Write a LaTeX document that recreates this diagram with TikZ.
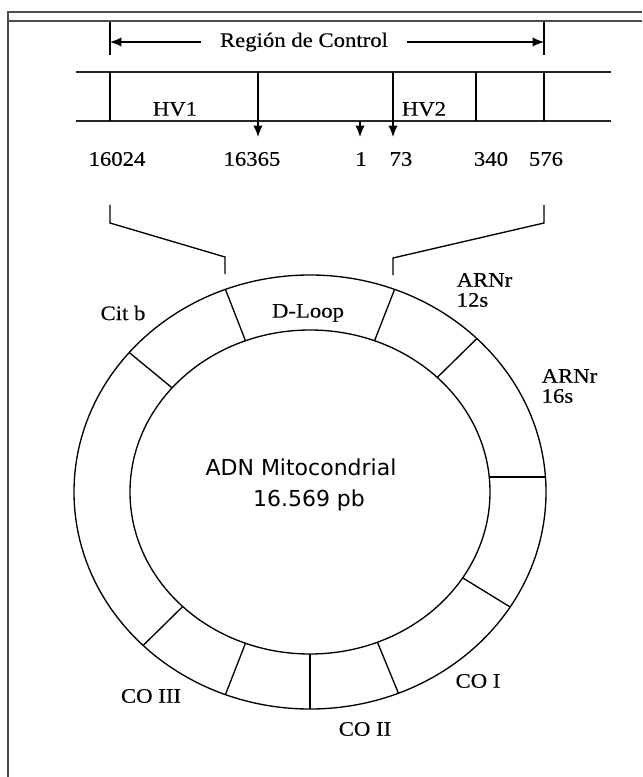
\documentclass[tikz,border=0pt]{standalone}
\usepackage{fontspec}
\setmainfont{Liberation Serif}[FakeStretch=1.1,FakeBold=0.3]
\newfontfamily\adnfont{DejaVu Sans}
\usetikzlibrary{arrows.meta}
\begin{document}
\begin{tikzpicture}[x=0.75pt,y=-0.75pt,line width=1pt,>={Latex[length=8.5pt,width=7pt]},
  lab/.style={font=\fontsize{15.5}{15}\selectfont,inner sep=0pt},
  frame/.style={line width=1.2pt,black!70}]
  \useasboundingbox (0,0) rectangle (642,777);
  \draw[frame] (642,12) -- (8,12) -- (8,777);
  \draw[frame] (8,21) -- (642,21);
  \node[lab,inner xsep=14pt] (rc) at (304,42) {Región de Control};
  \coordinate (cl) at (110,42);
  \coordinate (cr) at (544,42);
  \draw (110,22) -- (110,55);
  \draw (544,22) -- (544,55);
  \draw[->] (rc.west) -- (cl);
  \draw[->] (rc.east) -- (cr);
  \draw[line width=1.4pt,black!85] (76,72) -- (611,72);
  \draw[line width=1.4pt,black!85] (76,121) -- (611,121);
  \foreach \x in {110,476,544} \draw (\x,72) -- (\x,121);
  \foreach \x in {258,393} \draw[->] (\x,72) -- (\x,137);
  \draw[->] (360,121) -- (360,137);
  \node[lab] (hv1) at (175,109) {HV1};
  \node[lab] (hv2) at (424,109) {HV2};
  \foreach \x/\n in {117/16024,252/16365,361/1,401/73,491/340,546/576}
    \node[lab] (p\n) at (\x,159) {\n};
  \coordinate (bl) at (225,274);
  \coordinate (br) at (393,275);
  \draw (110,205) -- (110,223) -- (225,257) -- (bl);
  \draw (544,205) -- (544,223) -- (393,258) -- (br);
  \coordinate (c) at (310,492);
  \draw (c) ellipse [x radius=177pt,y radius=162.75pt];
  \draw (c) ellipse [x radius=135pt,y radius=121.5pt];
  \foreach \a in {111,69,45,-32,-68,-90,-111,-135,140}
    \draw ({310+180*cos(\a)},{492-162*sin(\a)}) -- ({310+236*cos(\a)},{492-217*sin(\a)});
  \draw ({310+180*cos(5)},477) -- ({310+236*cos(5)},477);
  \node[lab] (citb) at (123,313) {Cit b};
  \node[lab] (dloop) at (308,313) {D-Loop};
  \node[lab,anchor=west,align=left] (r12) at (456,290) {ARNr\\12s};
  \node[lab,anchor=west,align=left] (r16) at (541,386) {ARNr\\16s};
  \node[font=\adnfont\fontsize{16.5}{18}\selectfont,inner sep=0pt] (adn) at (301,467) {ADN Mitocondrial};
  \node[font=\adnfont\fontsize{16.5}{18}\selectfont,inner sep=0pt] (pb) at (309,500) {16.569 pb};
  \node[lab] (co1) at (478,681) {CO I};
  \node[lab] (co2) at (365,729) {CO II};
  \node[lab] (co3) at (151,696) {CO III};
\end{tikzpicture}
\end{document}
